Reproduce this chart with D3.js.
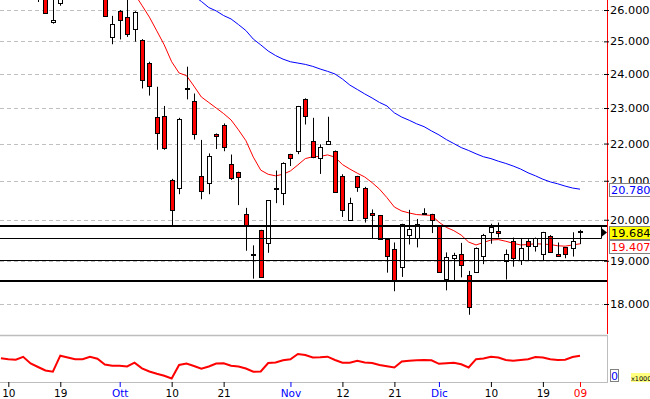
<!DOCTYPE html>
<html>
<head>
<meta charset="utf-8">
<script src="https://cdn.jsdelivr.net/npm/d3@7/dist/d3.min.js"></script>
<style>
  body { margin: 0; background: #fff; }
  svg { display: block; }
</style>
</head>
<body>
<div id="chart"></div>
<script>
var days = [
  "2008-09-09","2008-09-10","2008-09-11","2008-09-12","2008-09-15","2008-09-16","2008-09-17","2008-09-18","2008-09-19","2008-09-22",
  "2008-09-23","2008-09-24","2008-09-25","2008-09-26","2008-09-29","2008-09-30","2008-10-01","2008-10-02","2008-10-03","2008-10-06",
  "2008-10-07","2008-10-08","2008-10-09","2008-10-10","2008-10-13","2008-10-14","2008-10-15","2008-10-16","2008-10-17","2008-10-20",
  "2008-10-21","2008-10-22","2008-10-23","2008-10-24","2008-10-27","2008-10-28","2008-10-29","2008-10-30","2008-10-31","2008-11-03",
  "2008-11-04","2008-11-05","2008-11-06","2008-11-07","2008-11-10","2008-11-11","2008-11-12","2008-11-13","2008-11-14","2008-11-17",
  "2008-11-18","2008-11-19","2008-11-20","2008-11-21","2008-11-24","2008-11-25","2008-11-26","2008-11-27","2008-11-28","2008-12-01",
  "2008-12-02","2008-12-03","2008-12-04","2008-12-05","2008-12-08","2008-12-09","2008-12-10","2008-12-11","2008-12-12","2008-12-15",
  "2008-12-16","2008-12-17","2008-12-18","2008-12-19","2008-12-22","2008-12-23","2008-12-29","2008-12-30","2009-01-02"
]

var open = [
  27.6, 27.2, 26.8, 27.0, 26.9, 26.7, 26.5, 25.61, 26.22, 26.5,
  26.7, 26.6, 26.9, 26.7, 26.6, 25.13, 25.97, 25.78, 25.38, 25.04,
  24.32, 22.75, 22.77, 21.02, 20.82, 23.56, 23.21, 21.12, 20.94, 22.27,
  22.53, 21.45, 21.23, 20.14, 19.14, 19.74, 19.42, 20.78, 20.69, 21.71,
  21.79, 23.26, 22.06, 21.61, 21.99, 21.79, 21.12, 20.01, 21.12, 20.81,
  20.16, 20.11, 19.52, 19.29, 18.84, 19.62, 19.56, 20.15, 20.14, 19.84,
  18.56, 19.06, 19.15, 18.66, 18.74, 19.10, 19.70, 19.73, 18.99, 19.48,
  19.03, 19.48, 19.35, 19.15, 19.60, 19.15, 19.32, 19.32, 19.684
]
var high = [
  27.9, 27.5, 27.0, 27.4, 27.0, 26.9, 26.6, 26.6, 26.6, 26.9,
  26.9, 27.1, 27.2, 26.8, 26.7, 25.81, 26.0, 26.4, 25.96, 25.07,
  24.37, 23.62, 23.06, 21.05, 22.72, 24.22, 23.42, 22.10, 21.73, 22.28,
  22.56, 21.70, 21.24, 20.30, 19.37, 19.75, 20.50, 21.27, 21.49, 21.72,
  23.06, 23.28, 22.72, 21.98, 22.75, 21.81, 21.17, 20.56, 21.13, 20.84,
  20.26, 20.12, 19.53, 19.44, 19.90, 20.25, 20.02, 20.29, 20.15, 19.85,
  19.20, 19.19, 19.43, 18.76, 19.32, 19.65, 19.90, 19.93, 19.27, 19.56,
  19.53, 19.52, 19.56, 19.70, 19.62, 19.44, 19.33, 19.69, 19.75
]
var low = [
  27.1, 26.7, 26.45, 26.8, 26.5, 26.26, 25.90, 25.56, 26.14, 26.4,
  26.45, 26.5, 26.6, 26.4, 25.79, 24.91, 25.06, 25.14, 24.99, 23.57,
  23.36, 21.83, 21.83, 19.82, 20.65, 23.25, 22.11, 20.52, 20.65, 21.85,
  21.79, 21.02, 20.37, 19.24, 18.58, 18.60, 19.19, 20.42, 20.37, 21.39,
  21.71, 22.53, 21.60, 21.18, 21.98, 20.70, 20.07, 19.97, 20.71, 19.93,
  19.54, 19.50, 18.72, 18.29, 18.62, 19.39, 19.32, 20.12, 19.67, 18.72,
  18.31, 18.54, 18.61, 17.76, 18.73, 18.92, 19.41, 19.56, 18.56, 18.86,
  18.90, 19.01, 19.22, 18.99, 19.21, 19.09, 19.06, 19.10, 19.40
]
var close = [
  27.3, 26.9, 26.95, 27.2, 26.6, 26.45, 25.91, 25.67, 26.45, 26.6,
  26.5, 26.9, 26.7, 26.5, 25.80, 25.54, 25.67, 25.25, 25.93, 23.81,
  23.62, 22.29, 21.88, 20.25, 22.70, 23.56, 22.26, 20.72, 21.65, 22.21,
  21.93, 21.09, 21.09, 19.85, 19.14, 18.62, 20.49, 20.78, 21.47, 21.61,
  23.05, 22.78, 21.61, 21.91, 22.08, 20.71, 20.23, 20.43, 20.84, 20.05,
  20.10, 19.51, 19.10, 18.54, 19.89, 19.77, 19.90, 20.15, 20.00, 18.73,
  19.08, 19.13, 18.89, 17.92, 19.31, 19.62, 19.82, 19.67, 19.15, 19.06,
  19.31, 19.37, 19.54, 19.69, 19.22, 19.10, 19.15, 19.48, 19.684
]

// moving averages, from the first day they show up
var maShortStart = "2008-10-03"
var maShort = [
  26.53, 26.15, 25.77, 25.33, 24.89, 24.37, 24.03, 23.95, 23.64, 23.32,
  23.16, 23.00, 22.84, 22.66, 22.38, 22.08, 21.63, 21.28, 21.17, 21.13,
  21.17, 21.26, 21.42, 21.59, 21.64, 21.65, 21.69, 21.63, 21.43, 21.31,
  21.20, 21.10, 20.95, 20.78, 20.56, 20.32, 20.22, 20.17, 20.13, 20.12,
  20.11, 19.94, 19.81, 19.73, 19.62, 19.45, 19.38, 19.44, 19.50, 19.51,
  19.47, 19.42, 19.38, 19.39, 19.41, 19.40, 19.39, 19.36, 19.35, 19.38,
  19.407
]
var maLongStart = "2008-10-15"
var maLong = [
  26.46, 26.28, 26.08, 25.97, 25.82, 25.71, 25.53, 25.34, 25.07, 24.89,
  24.70, 24.56, 24.45, 24.37, 24.33, 24.29, 24.23, 24.15, 24.08, 24.00,
  23.85, 23.67, 23.54, 23.41, 23.29, 23.16, 23.06, 22.86, 22.74, 22.65,
  22.55, 22.47, 22.35, 22.24, 22.11, 22.00, 21.89, 21.81, 21.72, 21.64,
  21.59, 21.52, 21.46, 21.39, 21.31, 21.21, 21.13, 21.04, 20.97, 20.92,
  20.86, 20.81, 20.78
]

// lower panel indicator (x1000)
var volume = [
  23.7, 22.8, 22.3, 25.2, 18.5, 15.0, 11.5, 10.3, 26.3, 24.5,
  22.7, 22.7, 25.3, 23.3, 17.5, 16.3, 16.3, 15.5, 19.3, 13.7,
  10.5, 8.3, 6.3, 3.5, 17.0, 18.5, 16.0, 13.3, 15.5, 18.5,
  18.7, 16.2, 15.5, 13.5, 10.3, 10.5, 19.0, 19.5, 21.8, 22.8,
  28.0, 27.0, 24.5, 24.8, 25.3, 22.0, 19.3, 19.3, 21.2, 19.5,
  19.0, 17.0, 15.8, 14.5, 20.5, 21.3, 21.8, 22.0, 21.7, 18.2,
  18.7, 19.3, 17.7, 14.5, 22.8, 23.5, 25.3, 24.5, 22.0, 21.3,
  22.0, 22.7, 25.0, 24.4, 22.7, 22.0, 22.3, 25.0, 26.3
]

var priceTicks = [18, 19, 20, 21, 22, 23, 24, 25, 26]
var levels = [19.85, 19.55, 19.02, 18.53]

var tickDays = ["2008-09-10","2008-09-19","2008-10-01","2008-10-10","2008-10-21","2008-11-03",
                "2008-11-12","2008-11-21","2008-12-01","2008-12-10","2008-12-19","2009-01-02"]
var tickLabels = ["10","19","Ott","10","21","Nov","12","21","Dic","10","19","09"]
var tickKinds = ["day","day","month","day","day","month","day","day","month","day","day","year"]

var FONT = '"DejaVu Sans", Verdana, sans-serif'
var width = 650, height = 399
var plotRight = 607, plotBottom = 334
var volTop = 337, volBottom = 382
var kindColor = {day: "#000", month: "#0000ff", year: "#ff0000"}

var x = d3.scalePoint().domain(days).range([0.9, 580])
var y = d3.scaleLog().domain([18, 26]).range([304, 10])
var yv = d3.scaleLinear().domain([0, 45]).range([volBottom, volTop])
var fmt = d3.format(".3f")

function px(v) { return Math.round(v) + 0.5 }

var svg = d3.select("#chart").append("svg").attr("width", width).attr("height", height)
    .style("font-family", FONT)

var defs = svg.append("defs")
defs.append("clipPath").attr("id", "clipMain").append("rect")
    .attr("x", 0).attr("y", 0).attr("width", plotRight).attr("height", plotBottom)
defs.append("clipPath").attr("id", "clipVol").append("rect")
    .attr("x", 0).attr("y", volTop - 1).attr("width", plotRight).attr("height", volBottom - volTop + 1)

/* grid */
svg.append("g").selectAll("line").data(priceTicks).enter().append("line")
    .attr("x1", 0).attr("x2", 603)
    .attr("y1", function(d) { return px(y(d)) })
    .attr("y2", function(d) { return px(y(d)) })
    .attr("stroke", "#c0c0c0").attr("stroke-dasharray", "4,3")

var main = svg.append("g").attr("clip-path", "url(#clipMain)")

function maPoints(start, values) {
    var k = days.indexOf(start)
    return values.map(function(v, j) { return {day: days[k + j], v: v} })
}
var maLine = d3.line().x(function(d) { return x(d.day) }).y(function(d) { return y(d.v) })

main.append("path").datum(maPoints(maLongStart, maLong)).attr("d", maLine)
    .attr("fill", "none").attr("stroke", "#0000ff").attr("stroke-width", 1)
main.append("path").datum(maPoints(maShortStart, maShort)).attr("d", maLine)
    .attr("fill", "none").attr("stroke", "#ff0000").attr("stroke-width", 1)

/* candles */
var candles = days.map(function(d, i) { return {day: d, o: open[i], h: high[i], l: low[i], c: close[i]} })
function bodyH(d) { return Math.abs(y(d.o) - y(d.c)) }

main.selectAll(".wick").data(candles).enter().append("line").attr("class", "wick")
    .attr("x1", function(d) { return px(x(d.day)) })
    .attr("x2", function(d) { return px(x(d.day)) })
    .attr("y1", function(d) { return y(d.h) })
    .attr("y2", function(d) { return y(d.l) })
    .attr("stroke", "#000")

main.selectAll(".body").data(candles.filter(function(d) { return bodyH(d) >= 1 }))
    .enter().append("rect").attr("class", "body")
    .attr("x", function(d) { return Math.round(x(d.day)) - 1.5 })
    .attr("width", 4)
    .attr("y", function(d) { return px(Math.min(y(d.o), y(d.c))) })
    .attr("height", function(d) { return Math.max(1, Math.round(bodyH(d))) })
    .attr("fill", function(d) { return d.c < d.o ? "#ff0000" : "#fff" })
    .attr("stroke", "#000")

main.selectAll(".doji").data(candles.filter(function(d) { return bodyH(d) < 1 }))
    .enter().append("rect").attr("class", "doji")
    .attr("x", function(d) { return Math.round(x(d.day)) - 2 })
    .attr("width", 5)
    .attr("y", function(d) { return Math.round(y(d.c)) - 1 })
    .attr("height", 2)
    .attr("fill", "#000")

/* horizontal levels */
main.selectAll(".level").data(levels).enter().append("line").attr("class", "level")
    .attr("x1", 0)
    .attr("x2", function(d, i) { return i == 1 ? 601.5 : plotRight })
    .attr("y1", function(d, i) { return (i == 0 || i == 3) ? Math.round(y(d)) : px(y(d)) })
    .attr("y2", function(d, i) { return (i == 0 || i == 3) ? Math.round(y(d)) : px(y(d)) })
    .attr("stroke", "#000")
    .attr("stroke-width", function(d, i) { return (i == 0 || i == 3) ? 2 : 1 })
svg.append("line")
    .attr("x1", 601.5).attr("x2", 601.5)
    .attr("y1", Math.round(y(levels[0]))).attr("y2", px(y(levels[1])))
    .attr("stroke", "#000")

var last = close[close.length - 1]
var yl = y(last)
svg.append("path")
    .attr("d", "M602," + (yl - 4) + "L607," + yl + "L602," + (yl + 4) + "Z")
    .attr("fill", "#000")

/* frame */
svg.append("line").attr("x1", 607.5).attr("x2", 607.5).attr("y1", 0).attr("y2", plotBottom)
    .attr("stroke", "#ff0000")
svg.append("line").attr("x1", 0).attr("x2", 608).attr("y1", 335.5).attr("y2", 335.5)
    .attr("stroke", "#bdbdbd").attr("stroke-width", 1.5)
svg.append("line").attr("x1", 607.5).attr("x2", 607.5).attr("y1", 336).attr("y2", volBottom)
    .attr("stroke", "#bdbdbd")
svg.append("line").attr("x1", 0).attr("x2", 608).attr("y1", volBottom + 0.5).attr("y2", volBottom + 0.5)
    .attr("stroke", "#bdbdbd")

/* price axis */
var ya = svg.append("g").attr("transform", "translate(604,0)")
    .call(d3.axisRight(y).tickValues(priceTicks).tickFormat(fmt).tickSize(5).tickPadding(1))
ya.select(".domain").remove()
ya.attr("font-size", 11.3).attr("font-family", FONT).attr("color", "#000")

/* price tags on the right */
var tags = [
    {v: maLong[maLong.length - 1], color: "#0000ff", bg: "#fff"},
    {v: last, color: "#000", bg: "#ffff00"},
    {v: maShort[maShort.length - 1], color: "#ff0000", bg: "#fff"}
]
var tagH = 13, prevBottom = -1
tags.forEach(function(t) {
    t.top = Math.max(Math.round(y(t.v) - tagH / 2), prevBottom)
    prevBottom = t.top + tagH + 1
})
var tg = svg.append("g").selectAll("g").data(tags).enter().append("g")
tg.append("rect")
    .attr("x", 609.5).attr("y", function(d) { return d.top + 0.5 })
    .attr("width", 45).attr("height", tagH)
    .attr("fill", function(d) { return d.bg }).attr("stroke", "#808080")
tg.append("text")
    .attr("x", 611).attr("y", function(d) { return d.top + tagH / 2 + 1 })
    .attr("dy", "0.35em").attr("font-size", 11.3)
    .attr("fill", function(d) { return d.color })
    .text(function(d) { return fmt(d.v) })

/* lower panel */
var volLine = d3.line().x(function(d, i) { return x(days[i]) }).y(function(d) { return yv(d) })
svg.append("path").datum(volume).attr("clip-path", "url(#clipVol)").attr("d", volLine)
    .attr("fill", "none").attr("stroke", "#ff0000").attr("stroke-width", 2)

svg.append("rect").attr("x", 610.5).attr("y", 369.5).attr("width", 8).attr("height", 12)
    .attr("fill", "#fff").attr("stroke", "#808080")
svg.append("text").attr("x", 614.5).attr("y", 376).attr("dy", "0.35em")
    .attr("text-anchor", "middle").attr("font-size", 11).attr("fill", "#0000ff")
    .text(yv.domain()[0])
svg.append("rect").attr("x", 631).attr("y", 373).attr("width", 19).attr("height", 9)
    .attr("fill", "#ffff80")
svg.append("text").attr("x", 631).attr("y", 380.5).attr("font-size", 6.5).attr("fill", "#000")
    .text("x1000")

/* time axis */
var xa = svg.append("g").attr("transform", "translate(0," + volBottom + ")")
    .call(d3.axisBottom(x).tickValues(tickDays)
        .tickFormat(function(d, i) { return tickLabels[i] })
        .tickSize(5).tickPadding(3))
xa.select(".domain").remove()
xa.attr("font-size", 10.5).attr("font-family", FONT)
xa.selectAll(".tick").attr("color", function(d, i) { return kindColor[tickKinds[i]] })
</script>
</body>
</html>
